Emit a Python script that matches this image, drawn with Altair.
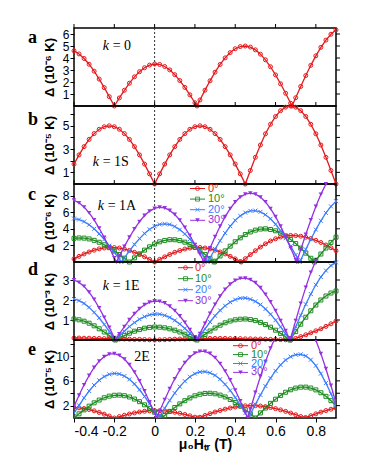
import altair as alt
import pandas as pd

# ---------------- data ----------------
X = [-0.4, -0.375, -0.35, -0.325, -0.3, -0.275, -0.25, -0.225, -0.2, -0.175,
     -0.15, -0.125, -0.1, -0.075, -0.05, -0.025, 0.0, 0.025, 0.05, 0.075,
     0.1, 0.125, 0.15, 0.175, 0.2, 0.225, 0.25, 0.275, 0.3, 0.325,
     0.35, 0.375, 0.4, 0.425, 0.45, 0.475, 0.5, 0.525, 0.55, 0.575,
     0.6, 0.625, 0.65, 0.675, 0.7, 0.725, 0.75, 0.775, 0.8, 0.825,
     0.85, 0.875, 0.9]

XTICKS = [-0.4, -0.2, 0.0, 0.2, 0.4, 0.6, 0.8]
LABELS = ["0°", "10°", "20°", "30°"]

# panel a : k = 0 (10^-6 K)
A_RED = [4.60, 4.34, 3.96, 3.48, 2.90, 2.24, 1.53, 0.78, 0.00, 0.67, 1.31, 1.90, 2.43, 2.86, 3.19, 3.41, 3.50,
         3.46, 3.29, 3.01, 2.61, 2.12, 1.55, 0.93, 0.27,
         0.50, 1.32, 2.10, 2.82, 3.46, 4.01, 4.45, 4.77, 4.95, 5.00, 4.91, 4.68, 4.32, 3.85, 3.27, 2.59, 1.85, 1.06, 0.23,
         0.69, 1.63, 2.54, 3.39, 4.18, 4.89, 5.49, 5.98, 6.35]
A_RED_ZEROS = [0.21, 0.682]

# panel b : k = 1S (10^-5 K)
B_RED = [1.71, 2.50, 3.21, 3.83, 4.33, 4.70, 4.92, 5.00, 4.92, 4.70, 4.33, 3.83, 3.21, 2.50, 1.71, 0.87, 0.00,
         0.87, 1.71, 2.50, 3.21, 3.83, 4.33, 4.70, 4.92, 5.00, 4.92, 4.70, 4.33, 3.83, 3.21, 2.50, 1.71, 0.87, 0.00,
         1.16, 2.29, 3.35, 4.31, 5.13, 5.80, 6.30, 6.60, 6.70, 6.60, 6.30, 5.80, 5.13, 4.31, 3.35, 2.29, 1.16, 0.00]
B_RED_ZEROS = []

# panel c : k = 1A (10^-6 K)
C_RED = [0.38, 0.68, 0.97, 1.21, 1.42, 1.59, 1.69, 1.75, 1.74, 1.68, 1.56, 1.39, 1.17, 0.91, 0.63, 0.32, 0.00,
         0.32, 0.62, 0.91, 1.17, 1.38, 1.56, 1.68, 1.74, 1.75, 1.69, 1.58, 1.42, 1.21, 0.97, 0.68, 0.38, 0.06,
         0.40, 0.89, 1.36, 1.80, 2.19, 2.53, 2.80, 3.01, 3.14, 3.20,
         3.18, 3.11, 2.99, 2.83, 2.61, 2.35, 2.05, 1.72, 1.36]
C_RED_ZEROS = [0.43]
C_GREEN = [2.85, 2.90, 2.88, 2.78, 2.61, 2.38, 2.08, 1.73, 1.34, 0.91, 0.46, 0.00,
           0.50, 0.98, 1.43, 1.83, 2.17, 2.43, 2.60, 2.69, 2.68, 2.58, 2.39, 2.12, 1.77, 1.37, 0.91, 0.42,
           0.10, 0.73, 1.34, 1.91, 2.44, 2.91, 3.31, 3.62, 3.84, 3.97, 4.00, 3.92, 3.76, 3.49, 3.14, 2.71, 2.22, 1.67, 1.07, 0.45,
           0.21, 0.96, 1.68, 2.36, 2.99]
C_GREEN_ZEROS = [0.296, 0.793]
C_BLUE = [5.24, 5.12, 4.87, 4.49, 4.00, 3.40, 2.72, 1.97, 1.17, 0.34,
          0.51, 1.33, 2.11, 2.82, 3.44, 3.94, 4.31, 4.53, 4.60, 4.52, 4.28, 3.90, 3.39, 2.76, 2.05, 1.27, 0.44,
          0.51, 1.56, 2.56, 3.49, 4.31, 5.02, 5.56, 5.95, 6.16, 6.19, 6.04, 5.70, 5.21, 4.55, 3.77, 2.87, 1.89, 0.85,
          0.25, 1.52, 2.75, 3.90, 4.97, 5.91, 6.70, 7.33]
C_BLUE_ZEROS = [-0.165, 0.263, 0.72]
C_PURPLE = [7.44, 7.13, 6.62, 5.92, 5.07, 4.06, 2.95, 1.75, 0.50,
            0.71, 1.88, 2.98, 3.99, 4.87, 5.60, 6.13, 6.47, 6.60, 6.51, 6.22, 5.72, 5.04, 4.18, 3.19, 2.10, 0.95,
            0.28, 1.69, 3.05, 4.31, 5.46, 6.44, 7.23, 7.82, 8.18, 8.30, 8.18, 7.82, 7.24, 6.44, 5.46, 4.31, 3.05, 1.69, 0.28,
            1.49, 3.32, 5.07, 6.69, 8.15, 9.40, None, None]
C_PURPLE_ZEROS = [-0.19, 0.245, 0.705]

# panel d : k = 1E (10^-3 K)
D_RED = [0.10, 0.10, 0.09, 0.09, 0.08, 0.08, 0.07, 0.07, 0.06, 0.05, 0.05, 0.04, 0.03, 0.03, 0.02, 0.01, 0.00,
         0.01, 0.02, 0.03, 0.04, 0.05, 0.05, 0.06, 0.07, 0.07, 0.07, 0.08, 0.08, 0.08, 0.08, 0.07, 0.07, 0.07,
         0.06, 0.06, 0.05, 0.05, 0.04, 0.03, 0.03, 0.02, 0.01,
         0.00, 0.08, 0.17, 0.26, 0.36, 0.46, 0.56, 0.68, 0.81, 0.95]
D_RED_ZEROS = []
D_GREEN = [1.05, 1.01, 0.94, 0.84, 0.71, 0.56, 0.40, 0.22, 0.04,
           0.10, 0.22, 0.34, 0.44, 0.52, 0.59, 0.63, 0.65, 0.64, 0.61, 0.56, 0.49, 0.40, 0.29, 0.17, 0.05,
           0.11, 0.28, 0.45, 0.60, 0.74, 0.86, 0.95, 1.01, 1.04, 1.05, 1.02, 0.97, 0.88, 0.77, 0.64, 0.49, 0.33, 0.16,
           0.05, 0.42, 0.79, 1.14, 1.46, 1.75, 2.00, 2.20, 2.35, 2.45]
D_BLUE = [2.05, 1.97, 1.83, 1.63, 1.38, 1.10, 0.78, 0.43, 0.07,
          0.20, 0.44, 0.67, 0.87, 1.04, 1.17, 1.26, 1.30, 1.29, 1.23, 1.13, 0.98, 0.80, 0.58, 0.35, 0.10,
          0.21, 0.56, 0.90, 1.21, 1.48, 1.71, 1.89, 2.02, 2.09, 2.10, 2.04, 1.93, 1.77, 1.55, 1.29, 0.99, 0.66, 0.31,
          0.07, 0.66, 1.24, 1.79, 2.30, 2.76, 3.15, 3.47, 3.72, 3.88]
D_PURPLE = [3.00, 2.88, 2.68, 2.39, 2.03, 1.60, 1.13, 0.63, 0.11,
            0.30, 0.67, 1.01, 1.31, 1.56, 1.76, 1.89, 1.95, 1.93, 1.85, 1.69, 1.47, 1.20, 0.88, 0.52, 0.15,
            0.32, 0.83, 1.33, 1.78, 2.19, 2.53, 2.79, 2.98, 3.08, 3.09, 3.02, 2.86, 2.61, 2.28, 1.90, 1.46, 0.97, 0.46,
            0.10, 0.97, 1.83, 2.63, 3.38, 3.95, None, None, None, None]
D_ZEROS = [-0.195, 0.21, 0.672]

# panel e : 2E (10^-5 K)
E_RED = [1.70, 1.64, 1.53, 1.37, 1.16, 0.90, 0.62, 0.32, 0.00,
         0.23, 0.44, 0.65, 0.82, 0.97, 1.09, 1.16, 1.20, 1.19, 1.14, 1.05, 0.92, 0.76, 0.57, 0.36, 0.14,
         0.12, 0.41, 0.70, 0.97, 1.21, 1.43, 1.62, 1.78, 1.89, 1.97, 2.00, 1.99, 1.93, 1.83, 1.69, 1.51, 1.31, 1.07, 0.80, 0.53, 0.24,
         0.06, 0.37, 0.67, 0.95, 1.20, 1.42, 1.59]
E_RED_ZEROS = [0.215, 0.745]
E_GREEN = [0.00, 0.67, 1.31, 1.91, 2.45, 2.90, 3.27, 3.53, 3.67, 3.70, 3.60, 3.39, 3.06, 2.64, 2.13, 1.55, 0.93, 0.27,
           0.40, 1.07, 1.70, 2.28, 2.80, 3.24, 3.59, 3.84, 3.97, 4.00, 3.91, 3.70, 3.40, 2.99, 2.50, 1.94, 1.33, 0.67, 0.00,
           0.82, 1.61, 2.36, 3.04, 3.65, 4.16, 4.56, 4.83, 4.98, 4.99, 4.84, 4.54, 4.08, 3.50, 2.80, 2.00]
E_GREEN_ZEROS = [0.035]
E_BLUE = [0.78, 2.05, 3.25, 4.36, 5.31, 6.11, 6.69, 7.06, 7.20, 7.11, 6.78, 6.24, 5.49, 4.56, 3.48, 2.30, 1.04,
          0.26, 1.58, 2.84, 4.02, 5.06, 5.95, 6.66, 7.16, 7.44, 7.49, 7.30, 6.89, 6.27, 5.44, 4.45, 3.32, 2.08, 0.79,
          0.63, 2.20, 3.72, 5.15, 6.45, 7.61, 8.58, 9.36, 9.91, 10.22, 10.29, 10.03, 9.41, 8.45, 7.17, 5.64, 3.91, 2.03]
E_BLUE_ZEROS = [0.02, 0.465]
E_PURPLE = [1.87, 3.67, 5.36, 6.87, 8.16, 9.19, 9.91, 10.32, 10.39, 10.12, 9.52, 8.60, 7.42, 5.99, 4.37, 2.60, 0.75,
            1.12, 2.96, 4.72, 6.33, 7.74, 8.93, 9.84, 10.47, 10.77, 10.75, 10.41, 9.75, 8.79, 7.58, 6.13, 4.51, 2.74, 0.90,
            1.42, 4.12, 6.71, 9.11, 11.27, 13.1, 14.6, 15.7, 16.4, 16.6, 16.3, 15.6, 14.3, 12.55, 10.4, 7.95, 5.26, 2.36]
E_PURPLE_ZEROS = [0.01, 0.462]

# ---------------- styling ----------------
W, H = 262, 78
SANS = "Liberation Sans"
SERIF = "Liberation Serif"
COLORS = ["#e4191c", "#1e8c22", "#3c7dff", "#9630e0"]
SHAPES = ["circle", "square", "M-1,-1L1,1M-1,1L1,-1", "triangle-down"]
SIZES = [16, 16, 16, 20]
FILLED = [False, False, False, True]

XLABEL_EXPR = "datum.value == 0 ? '0' : replace(format(datum.value, '.1f'), '\u2212', '-')"

PANELS = [
    dict(letter="a", ly=10.4, k="k", krest="= 0", kx=28.7, ky=18, ymax=6.5,
         yticks=[1, 2, 3, 4, 5, 6], title="Δ (10⁻⁶ K)",
         series=[(0, A_RED, A_RED_ZEROS)], legend=None, clip=False),
    dict(letter="b", ly=14.3, k="k", krest="= 1S", kx=18.7, ky=56, ymax=6.7,
         yticks=[1, 2, 3, 4, 5, 6], title="Δ (10⁻⁵ K)",
         series=[(0, B_RED, B_RED_ZEROS)], legend=None, clip=False),
    dict(letter="c", ly=11.3, k="k", krest="= 1A", kx=23.7, ky=22.3, ymax=9.4,
         yticks=[2, 4, 6, 8], title="Δ (10⁻⁶ K)",
         series=[(0, C_RED, C_RED_ZEROS), (1, C_GREEN, C_GREEN_ZEROS),
                 (2, C_BLUE, C_BLUE_ZEROS), (3, C_PURPLE, C_PURPLE_ZEROS)],
         legend=(116, 131, 134, 4.5, 10.6), clip=False),
    dict(letter="d", ly=8.3, k="k", krest="= 1E", kx=28.7, ky=24.3, ymax=3.9,
         yticks=[1, 2, 3], title="Δ (10⁻³ K)",
         series=[(0, D_RED, D_RED_ZEROS), (1, D_GREEN, D_ZEROS),
                 (2, D_BLUE, D_ZEROS), (3, D_PURPLE, D_ZEROS)],
         legend=(104, 119, 121, 5.7, 11.0), clip=False),
    dict(letter="e", ly=10.3, k="", krest="2E", kx=60.3, ky=17, ymax=12.6,
         yticks=[2, 4, 6, 8, 10, 12], title="Δ (10⁻⁵ K)",
         series=[(0, E_RED, E_RED_ZEROS), (1, E_GREEN, E_GREEN_ZEROS),
                 (2, E_BLUE, E_BLUE_ZEROS), (3, E_PURPLE, E_PURPLE_ZEROS)],
         legend=(159, 174, 177, 5.7, 8.9), clip=True,
         ylabelexpr="datum.value % 4 == 2 ? datum.label : ''"),
]


def series_df(vals, zeros):
    assert len(vals) == len(X), len(vals)
    rows = [(x, y) for x, y in zip(X, vals) if y is not None]
    rows += [(z, 0.0) for z in zeros]
    return pd.DataFrame(rows, columns=["x", "y"]).sort_values("x")


def text_layer(txt, x, y, **kw):
    return alt.Chart(pd.DataFrame({"t": [txt]})).mark_text(**kw).encode(
        text="t:N", x=alt.value(x), y=alt.value(y))


def build_panel(p, last):
    xs = alt.Scale(domain=[-0.4, 0.9], nice=False, zero=False)
    ys = alt.Scale(domain=[0, p["ymax"]], nice=False, zero=False)
    if last:
        xenc = alt.X("x:Q", scale=xs, title="μ₀Hₜᵣ (T)",
                     axis=alt.Axis(values=XTICKS, labelExpr=XLABEL_EXPR, tickSize=4,
                                   tickColor="black", domain=False, grid=False,
                                   labelFont=SANS, labelFontSize=14, labelColor="black",
                                   labelPadding=2, titleFont=SANS, titleFontSize=14,
                                   titleFontWeight="bold", titleColor="black",
                                   titleY=26, titleBaseline="middle"))
    else:
        xenc = alt.X("x:Q", scale=xs, axis=None)
    axis_kw = dict(values=p["yticks"], tickSize=4, tickColor="black", domain=False,
                   grid=False, labelFont=SANS, labelFontSize=12, labelColor="black",
                   labelPadding=1, titleFont=SANS, titleFontSize=13, titleFontWeight="bold",
                   titleColor="black", titleX=-25, titleY=H / 2, titleAngle=270,
                   titleAlign="center", titleBaseline="middle")
    if "ylabelexpr" in p:
        axis_kw["labelExpr"] = p["ylabelexpr"]
    yenc = alt.Y("y:Q", scale=ys, title=p["title"], axis=alt.Axis(**axis_kw))

    layers = []
    # dotted line at zero field
    layers.append(alt.Chart(pd.DataFrame({"x": [0.0]})).mark_rule(
        color="#333333", strokeDash=[2, 2], strokeWidth=1).encode(x=xenc))
    # outward ticks on top and right
    layers.append(alt.Chart(pd.DataFrame({"x": XTICKS})).mark_rule(
        color="black", strokeWidth=1).encode(x=xenc, y=alt.value(-4), y2=alt.value(0)))
    layers.append(alt.Chart(pd.DataFrame({"y": p["yticks"]})).mark_rule(
        color="black", strokeWidth=1).encode(y=yenc, x=alt.value(W), x2=alt.value(W + 4)))

    for si, vals, zeros in p["series"]:
        df = series_df(vals, zeros)
        base = alt.Chart(df).encode(x=xenc, y=yenc)
        layers.append(base.mark_line(color=COLORS[si], strokeWidth=1.3, clip=p["clip"]))
        layers.append(base.mark_point(shape=SHAPES[si], size=SIZES[si], filled=FILLED[si],
                                      color=COLORS[si], opacity=1, strokeWidth=1.0,
                                      clip=p["clip"]))

    # panel letter and k label
    layers.append(text_layer(p["letter"], -46, p["ly"], font=SERIF, fontSize=18,
                             fontWeight="bold", align="left", baseline="middle", color="black"))
    if p["k"]:
        layers.append(text_layer(p["k"], p["kx"], p["ky"], font=SERIF, fontSize=14,
                                 fontStyle="italic", align="left", baseline="middle",
                                 color="black"))
        layers.append(text_layer(p["krest"], p["kx"] + 10, p["ky"], font=SERIF, fontSize=14,
                                 align="left", baseline="middle", color="black"))
    else:
        layers.append(text_layer(p["krest"], p["kx"], p["ky"], font=SERIF, fontSize=14,
                                 align="left", baseline="middle", color="black"))

    if p["legend"]:
        x1, x2, tx, y0, dy = p["legend"]
        for i, lab in enumerate(LABELS):
            yy = y0 + i * dy
            one = pd.DataFrame({"t": [lab]})
            layers.append(alt.Chart(one).mark_rule(color=COLORS[i], strokeWidth=1).encode(
                x=alt.value(x1), x2=alt.value(x2), y=alt.value(yy)))
            layers.append(alt.Chart(one).mark_point(shape=SHAPES[i], size=SIZES[i],
                                                    filled=FILLED[i], color=COLORS[i],
                                                    opacity=1, strokeWidth=0.8).encode(
                x=alt.value((x1 + x2) / 2), y=alt.value(yy)))
            layers.append(text_layer(lab, tx, yy, font=SANS, fontSize=11, align="left",
                                     baseline="middle", color=COLORS[i]))

    return alt.layer(*layers).properties(width=W, height=H)


panels = [build_panel(p, i == len(PANELS) - 1) for i, p in enumerate(PANELS)]

chart = alt.vconcat(*panels, spacing=0, bounds="flush").properties(
    padding={"left": 19, "top": 14, "right": 5, "bottom": 5}
).configure_view(stroke="black", strokeWidth=1.5)

chart.save("out.html", embed_options={"renderer": "svg", "actions": False})
